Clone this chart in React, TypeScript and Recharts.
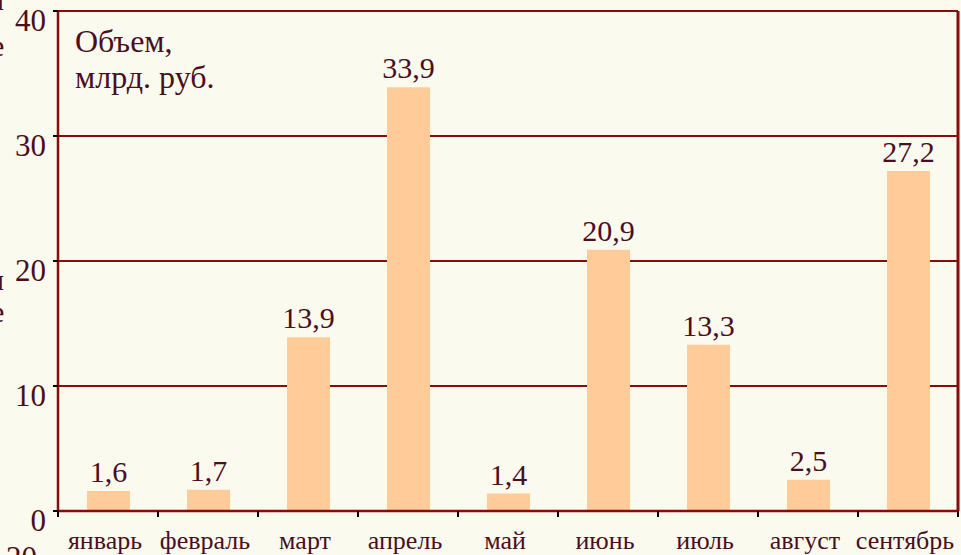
import { BarChart, Bar, XAxis, YAxis, CartesianGrid, LabelList } from "recharts";

const months = [
  "январь",
  "февраль",
  "март",
  "апрель",
  "май",
  "июнь",
  "июль",
  "август",
  "сентябрь",
];
const volumes = [1.6, 1.7, 13.9, 33.9, 1.4, 20.9, 13.3, 2.5, 27.2];
const yTicks = [0, 10, 20, 30, 40];
const titleLines = ["Объем,", "млрд. руб."];

const data = months.map((m, i) => ({ month: m, value: volumes[i] }));

const W = 961;
const H = 555;
const LEFT = 58;
const RIGHT = 3;
const BAND = (W - LEFT - RIGHT) / months.length;

const BG = "#FAFAEF";
const DARK_RED = "#8B0A0A";
const TEXT = "#4A0E20";
const SERIF = "Liberation Serif";
const serifStyle = { fontFamily: SERIF };

function MonthTick(props: any) {
  const { x, y, payload, index } = props;
  const left = x - BAND / 2;
  const right = x + BAND / 2;
  return (
    <g>
      <line x1={left} y1={y} x2={left} y2={y + 6} stroke="#000" strokeWidth={2} />
      {index === months.length - 1 && (
        <line x1={right} y1={y} x2={right} y2={y + 6} stroke="#000" strokeWidth={2} />
      )}
      <text x={x - 3} y={y + 38} textAnchor="middle" fontSize={26} fill={TEXT} style={serifStyle}>
        {payload.value}
      </text>
    </g>
  );
}

function ValueTick(props: any) {
  const { x, y, payload } = props;
  return (
    <text x={x + 1} y={y + 20} textAnchor="end" fontSize={31} fill={TEXT} style={serifStyle}>
      {payload.value}
    </text>
  );
}

export default function App() {
  return (
    <div
      style={{
        position: "absolute",
        left: 0,
        top: 0,
        width: W,
        height: H,
        background: BG,
        overflow: "hidden",
        fontFamily: SERIF,
      }}
    >
      <BarChart
        width={W}
        height={H}
        data={data}
        margin={{ top: 11, right: 0, left: 0, bottom: 0 }}
        style={serifStyle}
      >
        <CartesianGrid
          yAxisId="left"
          vertical={false}
          stroke={DARK_RED}
          strokeWidth={2}
          strokeOpacity={1}
        />
        <XAxis
          dataKey="month"
          height={44}
          interval={0}
          tickSize={0}
          tickMargin={0}
          tickLine={false}
          axisLine={{ stroke: DARK_RED, strokeWidth: 2.5 }}
          tick={<MonthTick />}
        />
        <YAxis
          yAxisId="left"
          width={LEFT}
          domain={[0, 40]}
          ticks={yTicks}
          tickSize={5}
          tickMargin={8}
          tickLine={{ stroke: "#000", strokeWidth: 2 }}
          axisLine={{ stroke: DARK_RED, strokeWidth: 2.5 }}
          tick={<ValueTick />}
        />
        <YAxis
          yAxisId="right"
          orientation="right"
          width={RIGHT}
          domain={[0, 40]}
          tick={false}
          tickLine={false}
          axisLine={{ stroke: DARK_RED, strokeWidth: 3 }}
        />
        <Bar
          yAxisId="left"
          dataKey="value"
          fill="#FFCC99"
          barSize={43}
          isAnimationActive={false}
        >
          <LabelList
            dataKey="value"
            position="top"
            offset={9}
            fontSize={30}
            fill={TEXT}
            style={serifStyle}
            formatter={(v: any) => String(v).replace(".", ",")}
          />
        </Bar>
      </BarChart>
      <svg
        width={W}
        height={H}
        style={{ position: "absolute", left: 0, top: 0, pointerEvents: "none" }}
      >
        <g style={serifStyle} fill={TEXT}>
          <text x={75} y={52} fontSize={32}>
            {titleLines[0]}
          </text>
          <text x={75} y={88} fontSize={32}>
            {titleLines[1]}
          </text>
          <text x={-12} y={10} fontSize={30}>и</text>
          <text x={-9} y={56} fontSize={30}>е</text>
          <text x={-12} y={290} fontSize={30}>и</text>
          <text x={-9} y={322} fontSize={30}>е</text>
          <text x={6} y={568} fontSize={31}>20</text>
        </g>
      </svg>
    </div>
  );
}
